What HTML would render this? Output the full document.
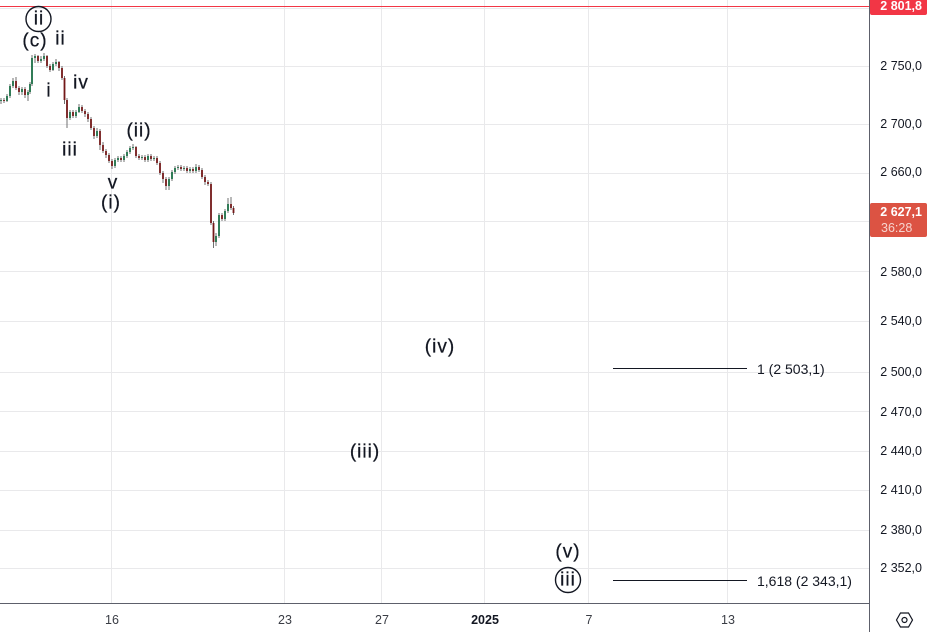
<!DOCTYPE html>
<html><head><meta charset="utf-8"><style>
html,body{margin:0;padding:0;background:#fff;}
svg{display:block;font-family:"Liberation Sans",Arial,sans-serif;}
.ax{font-size:12.5px;fill:#131722;}
.wl{font-size:19px;fill:#131722;letter-spacing:1px;stroke:#131722;stroke-width:0.25px;}
.fb{font-size:14px;fill:#131722;}
</style></head><body>
<svg width="927" height="632" viewBox="0 0 927 632" xmlns="http://www.w3.org/2000/svg">
<rect x="0" y="0" width="927" height="632" fill="#fff"/>
<!-- grid -->
<g stroke="#e9e9eb" stroke-width="1">
<line x1="0" y1="8.5" x2="869" y2="8.5"/>
<line x1="0" y1="66.5" x2="869" y2="66.5"/>
<line x1="0" y1="124.5" x2="869" y2="124.5"/>
<line x1="0" y1="173.5" x2="869" y2="173.5"/>
<line x1="0" y1="221.5" x2="869" y2="221.5"/>
<line x1="0" y1="271.5" x2="869" y2="271.5"/>
<line x1="0" y1="321.5" x2="869" y2="321.5"/>
<line x1="0" y1="372.5" x2="869" y2="372.5"/>
<line x1="0" y1="411.5" x2="869" y2="411.5"/>
<line x1="0" y1="451.5" x2="869" y2="451.5"/>
<line x1="0" y1="490.5" x2="869" y2="490.5"/>
<line x1="0" y1="530.5" x2="869" y2="530.5"/>
<line x1="0" y1="568.5" x2="869" y2="568.5"/>
<line x1="111.5" y1="0" x2="111.5" y2="603"/>
<line x1="284.5" y1="0" x2="284.5" y2="603"/>
<line x1="381.5" y1="0" x2="381.5" y2="603"/>
<line x1="484.5" y1="0" x2="484.5" y2="603"/>
<line x1="588.5" y1="0" x2="588.5" y2="603"/>
<line x1="727.5" y1="0" x2="727.5" y2="603"/>
</g>
<!-- red price line -->
<line x1="0" y1="6.5" x2="869" y2="6.5" stroke="#f23645" stroke-width="1"/>
<!-- candles wicks -->
<g stroke="#707070" stroke-width="1">
<line x1="1" y1="98" x2="1" y2="104"/><line x1="4" y1="98" x2="4" y2="103"/><line x1="7" y1="94" x2="7" y2="102"/><line x1="10" y1="84" x2="10" y2="98"/>
<line x1="13" y1="78" x2="13" y2="88"/><line x1="16" y1="77" x2="16" y2="90"/><line x1="19" y1="86" x2="19" y2="95"/><line x1="22" y1="87" x2="22" y2="95"/>
<line x1="25" y1="87" x2="25" y2="98"/><line x1="28" y1="90" x2="28" y2="101"/><line x1="30" y1="82" x2="30" y2="94"/><line x1="32" y1="55" x2="32" y2="86"/>
<line x1="35" y1="54" x2="35" y2="63"/><line x1="38" y1="55" x2="38" y2="63"/><line x1="41" y1="56" x2="41" y2="63"/><line x1="44" y1="53" x2="44" y2="61"/>
<line x1="47" y1="55" x2="47" y2="68"/><line x1="50" y1="64" x2="50" y2="72"/><line x1="53" y1="62" x2="53" y2="71"/><line x1="56" y1="59" x2="56" y2="66"/>
<line x1="59" y1="61" x2="59" y2="71"/><line x1="62" y1="66" x2="62" y2="80"/><line x1="64.5" y1="76" x2="64.5" y2="104"/><line x1="67" y1="98" x2="67" y2="128"/>
<line x1="70" y1="110" x2="70" y2="120"/><line x1="73" y1="110" x2="73" y2="118"/><line x1="76" y1="110" x2="76" y2="118"/><line x1="79" y1="104" x2="79" y2="113"/>
<line x1="82" y1="105" x2="82" y2="113"/><line x1="85" y1="109" x2="85" y2="117"/><line x1="88" y1="112" x2="88" y2="122"/><line x1="91" y1="117" x2="91" y2="130"/>
<line x1="94" y1="126" x2="94" y2="139"/><line x1="97" y1="128" x2="97" y2="138"/><line x1="100" y1="129" x2="100" y2="150"/><line x1="103" y1="142" x2="103" y2="153"/>
<line x1="106" y1="149" x2="106" y2="158"/><line x1="109" y1="153" x2="109" y2="163"/><line x1="112" y1="159" x2="112" y2="169"/><line x1="115" y1="158" x2="115" y2="168"/>
<line x1="118" y1="156" x2="118" y2="162"/><line x1="121" y1="156" x2="121" y2="162"/><line x1="124" y1="154" x2="124" y2="162"/><line x1="127" y1="150" x2="127" y2="158"/>
<line x1="130" y1="146" x2="130" y2="154"/><line x1="133" y1="144" x2="133" y2="150"/><line x1="136" y1="146" x2="136" y2="158"/><line x1="139" y1="154" x2="139" y2="160"/>
<line x1="142" y1="155" x2="142" y2="160"/><line x1="145" y1="155" x2="145" y2="162"/><line x1="148" y1="154" x2="148" y2="162"/><line x1="151" y1="154" x2="151" y2="161"/>
<line x1="154" y1="156" x2="154" y2="161"/><line x1="157" y1="156" x2="157" y2="165"/><line x1="160" y1="161" x2="160" y2="175"/><line x1="163" y1="171" x2="163" y2="183"/>
<line x1="166" y1="177" x2="166" y2="190"/><line x1="169" y1="177" x2="169" y2="190"/><line x1="172" y1="170" x2="172" y2="181"/><line x1="175" y1="166" x2="175" y2="174"/>
<line x1="178" y1="165" x2="178" y2="170"/><line x1="181" y1="165" x2="181" y2="171"/><line x1="184" y1="166" x2="184" y2="171"/><line x1="187" y1="166" x2="187" y2="173"/>
<line x1="190" y1="167" x2="190" y2="173"/><line x1="193" y1="167" x2="193" y2="173"/><line x1="196" y1="164" x2="196" y2="173"/><line x1="199" y1="165" x2="199" y2="172"/>
<line x1="202" y1="168" x2="202" y2="179"/><line x1="205" y1="175" x2="205" y2="185"/><line x1="208" y1="180" x2="208" y2="186"/><line x1="211" y1="182" x2="211" y2="225"/>
<line x1="213.5" y1="221" x2="213.5" y2="248"/><line x1="216" y1="233" x2="216" y2="246"/><line x1="219" y1="213" x2="219" y2="238"/><line x1="222" y1="213" x2="222" y2="221"/>
<line x1="225" y1="209" x2="225" y2="221"/><line x1="228" y1="198" x2="228" y2="213"/><line x1="231" y1="197" x2="231" y2="210"/><line x1="233.5" y1="206" x2="233.5" y2="215"/>
</g>
<!-- green bodies -->
<g fill="#1b6e45">
<rect x="0.1" y="100" width="1.8" height="1"/><rect x="6.1" y="96" width="1.8" height="5"/><rect x="9.1" y="86" width="1.8" height="10"/><rect x="12.1" y="81" width="1.8" height="5"/>
<rect x="21.1" y="89" width="1.8" height="3"/><rect x="27.1" y="92" width="1.8" height="3"/><rect x="29.1" y="84" width="1.8" height="8"/><rect x="31.1" y="58" width="1.8" height="26"/>
<rect x="34.1" y="56" width="1.8" height="2"/><rect x="40.1" y="59" width="1.8" height="2"/><rect x="43.1" y="56" width="1.8" height="3"/><rect x="52.1" y="64" width="1.8" height="6"/>
<rect x="55.1" y="62" width="1.8" height="2"/><rect x="69.1" y="112" width="1.8" height="6"/><rect x="75.1" y="112" width="1.8" height="4"/><rect x="78.1" y="107" width="1.8" height="5"/>
<rect x="96.1" y="131" width="1.8" height="5"/><rect x="114.1" y="160" width="1.8" height="6"/><rect x="117.1" y="158" width="1.8" height="2"/><rect x="123.1" y="156" width="1.8" height="4"/>
<rect x="126.1" y="152" width="1.8" height="4"/><rect x="129.1" y="148" width="1.8" height="4"/><rect x="132.1" y="147" width="1.8" height="1"/><rect x="141.1" y="157" width="1.8" height="1"/>
<rect x="147.1" y="156" width="1.8" height="4"/><rect x="153.1" y="158" width="1.8" height="1"/><rect x="168.1" y="179" width="1.8" height="7"/><rect x="171.1" y="172" width="1.8" height="7"/>
<rect x="174.1" y="168" width="1.8" height="4"/><rect x="177.1" y="167" width="1.8" height="1"/><rect x="183.1" y="168" width="1.8" height="1"/><rect x="189.1" y="169" width="1.8" height="2"/>
<rect x="195.1" y="167" width="1.8" height="4"/><rect x="215.1" y="236" width="1.8" height="6"/><rect x="218.1" y="215" width="1.8" height="21"/><rect x="224.1" y="211" width="1.8" height="8"/>
<rect x="227.1" y="204" width="1.8" height="7"/>
</g>
<!-- red bodies -->
<g fill="#731818">
<rect x="3.1" y="100" width="1.8" height="1"/><rect x="15.1" y="81" width="1.8" height="7"/><rect x="18.1" y="88" width="1.8" height="4"/><rect x="24.1" y="89" width="1.8" height="6"/>
<rect x="37.1" y="56" width="1.8" height="5"/><rect x="46.1" y="56" width="1.8" height="10"/><rect x="49.1" y="66" width="1.8" height="4"/><rect x="58.1" y="62" width="1.8" height="6"/>
<rect x="61.1" y="68" width="1.8" height="10"/><rect x="63.6" y="78" width="1.8" height="22"/><rect x="66.1" y="100" width="1.8" height="18"/><rect x="72.1" y="112" width="1.8" height="4"/>
<rect x="81.1" y="107" width="1.8" height="4"/><rect x="84.1" y="111" width="1.8" height="3"/><rect x="87.1" y="114" width="1.8" height="5"/><rect x="90.1" y="119" width="1.8" height="9"/>
<rect x="93.1" y="128" width="1.8" height="8"/><rect x="99.1" y="131" width="1.8" height="14"/><rect x="102.1" y="145" width="1.8" height="6"/><rect x="105.1" y="151" width="1.8" height="4"/>
<rect x="108.1" y="155" width="1.8" height="6"/><rect x="111.1" y="161" width="1.8" height="5"/><rect x="120.1" y="158" width="1.8" height="2"/><rect x="135.1" y="147" width="1.8" height="9"/>
<rect x="138.1" y="156" width="1.8" height="2"/><rect x="144.1" y="157" width="1.8" height="3"/><rect x="150.1" y="156" width="1.8" height="3"/><rect x="156.1" y="158" width="1.8" height="5"/>
<rect x="159.1" y="163" width="1.8" height="10"/><rect x="162.1" y="173" width="1.8" height="6"/><rect x="165.1" y="179" width="1.8" height="7"/><rect x="180.1" y="167" width="1.8" height="2"/>
<rect x="186.1" y="168" width="1.8" height="3"/><rect x="192.1" y="169" width="1.8" height="2"/><rect x="198.1" y="167" width="1.8" height="3"/><rect x="201.1" y="170" width="1.8" height="7"/>
<rect x="204.1" y="177" width="1.8" height="5"/><rect x="207.1" y="182" width="1.8" height="2"/><rect x="210.1" y="184" width="1.8" height="39"/><rect x="212.6" y="223" width="1.8" height="19"/>
<rect x="221.1" y="215" width="1.8" height="4"/><rect x="230.1" y="204" width="1.8" height="4"/><rect x="232.6" y="208" width="1.8" height="5"/>
</g>
<!-- wave labels -->
<circle cx="38.5" cy="19" r="12.5" fill="none" stroke="#131722" stroke-width="1.4"/>
<circle cx="568" cy="580" r="12.5" fill="none" stroke="#131722" stroke-width="1.4"/>
<g class="wl" text-anchor="middle" dominant-baseline="central">
<text x="39" y="19">ii</text>
<text x="35" y="41">(c)</text>
<text x="60.5" y="39">ii</text>
<text x="49" y="91">i</text>
<text x="81" y="83">iv</text>
<text x="70" y="150">iii</text>
<text x="113" y="183">v</text>
<text x="111" y="203">(i)</text>
<text x="139" y="131">(ii)</text>
<text x="440" y="347">(iv)</text>
<text x="365" y="452">(iii)</text>
<text x="568" y="552">(v)</text>
<text x="568" y="580">iii</text>
</g>
<!-- fib lines -->
<line x1="613" y1="368.5" x2="747" y2="368.5" stroke="#131722" stroke-width="1"/>
<text class="fb" x="757" y="369" dominant-baseline="central">1 (2 503,1)</text>
<line x1="613" y1="580.5" x2="747" y2="580.5" stroke="#131722" stroke-width="1"/>
<text class="fb" x="757" y="581" dominant-baseline="central">1,618 (2 343,1)</text>
<!-- axes separators -->
<line x1="869.5" y1="0" x2="869.5" y2="632" stroke="#5d606b" stroke-width="1"/>
<line x1="0" y1="603.5" x2="869" y2="603.5" stroke="#5d606b" stroke-width="1"/>
<!-- price axis labels -->
<g class="ax" text-anchor="end" dominant-baseline="central">
<text x="922" y="66">2 750,0</text>
<text x="922" y="124">2 700,0</text>
<text x="922" y="172">2 660,0</text>
<text x="922" y="272">2 580,0</text>
<text x="922" y="321">2 540,0</text>
<text x="922" y="372">2 500,0</text>
<text x="922" y="412">2 470,0</text>
<text x="922" y="451">2 440,0</text>
<text x="922" y="490">2 410,0</text>
<text x="922" y="530">2 380,0</text>
<text x="922" y="568">2 352,0</text>
</g>
<!-- red top label -->
<rect x="870" y="-4" width="57" height="19" rx="2" fill="#f23645"/>
<text x="922" y="6" class="ax" text-anchor="end" dominant-baseline="central" style="fill:#fff;font-weight:bold">2 801,8</text>
<!-- current price label -->
<rect x="870" y="203" width="57" height="34" rx="2" fill="#dc5343"/>
<text x="922" y="212" class="ax" text-anchor="end" dominant-baseline="central" style="fill:#fff;font-weight:bold">2 627,1</text>
<text x="881" y="228" class="ax" dominant-baseline="central" style="fill:#f6d3cd">36:28</text>
<!-- time axis -->
<g class="ax" text-anchor="middle" dominant-baseline="central" style="fill:#3a3d45">
<text x="112" y="620">16</text>
<text x="285" y="620">23</text>
<text x="382" y="620">27</text>
<text x="485" y="620" style="font-weight:bold;fill:#131722">2025</text>
<text x="589" y="620">7</text>
<text x="728" y="620">13</text>
</g>
<!-- settings icon -->
<polygon points="896.5,620 900.5,613 908.5,613 912.5,620 908.5,627 900.5,627" fill="none" stroke="#131722" stroke-width="1.2"/>
<circle cx="904.5" cy="620" r="2.5" fill="none" stroke="#131722" stroke-width="1.2"/>
</svg>
</body></html>
